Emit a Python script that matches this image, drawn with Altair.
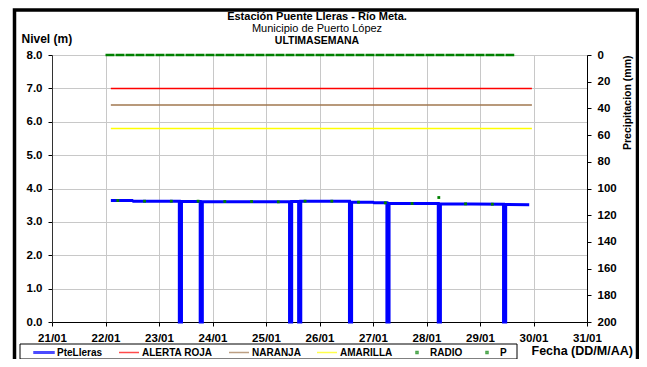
import altair as alt
import pandas as pd

FONT = "Liberation Sans"

# ---------------- data ----------------
title_lines = ["Estación Puente Lleras - Río Meta.", "Municipio de Puerto López", "ULTIMASEMANA"]

series_names = ["PteLleras", "ALERTA ROJA", "NARANJA", "AMARILLA", "RADIO", "P"]
series_colors = ["#0000FF", "#FF0000", "#A0774F", "#FFFF00", "#008000", "#008000"]
series_shapes = [
    "M-1,-0.08H1V0.08H-1Z",
    "M-1,0H1",
    "M-1,0H1",
    "M-1,0H1",
    "M-0.1,-0.1H0.1V0.1H-0.1Z",
    "M-0.1,-0.1H0.1V0.1H-0.1Z",
]

day_ticks = [21, 22, 23, 24, 25, 26, 27, 28, 29, 30, 31]
level_ticks = [0, 1, 2, 3, 4, 5, 6, 7, 8]
precip_ticks = [0, 20, 40, 60, 80, 100, 120, 140, 160, 180, 200]

# water level (m), time in days of January
lvl_t = [22.10, 22.50, 22.52, 23.38, 23.38, 23.42, 23.42, 23.77, 23.77, 23.81, 23.81,
         25.44, 25.44, 25.48, 25.48, 25.61, 25.61, 25.65, 25.65, 26.56, 26.56, 26.60,
         26.60, 27.00, 27.02, 27.26, 27.26, 27.30, 27.30, 28.22, 28.22, 28.26, 28.26,
         29.44, 29.44, 29.48, 29.48, 29.92]
lvl_v = [3.64, 3.64, 3.62, 3.62, 0, 0, 3.61, 3.61, 0, 0, 3.60,
         3.60, 0, 0, 3.61, 3.61, 0, 0, 3.62, 3.62, 0, 0,
         3.59, 3.59, 3.57, 3.57, 0, 0, 3.55, 3.55, 0, 0, 3.54,
         3.53, 0, 0, 3.52, 3.51]

radio_t = [22.23, 22.73, 23.23, 23.73, 24.23, 24.73, 25.23, 25.73, 26.23, 26.73,
           27.23, 27.73, 28.23, 28.73, 29.23]
radio_v = [3.64, 3.62, 3.62, 3.62, 3.61, 3.61, 3.60, 3.62, 3.62, 3.59,
           3.57, 3.55, 3.73, 3.54, 3.53]

p_t = [22.00, 29.64]
p_v = [0, 0]

thr_names = ["ALERTA ROJA", "NARANJA", "AMARILLA"]
thr_levels = [7.0, 6.5, 5.8]
thr_start = 22.10
thr_end = 29.97

# ---------------- tables ----------------
lvl_df = pd.DataFrame({"t": lvl_t, "v": lvl_v, "i": list(range(len(lvl_t)))})
radio_df = pd.DataFrame({"t": radio_t, "v": radio_v})
p_df = pd.DataFrame({"t": p_t, "p": p_v})
thr_df = pd.DataFrame({
    "name": thr_names,
    "v": thr_levels,
    "t": [thr_start] * len(thr_names),
    "t1": [thr_end] * len(thr_names),
    "color": [series_colors[series_names.index(n)] for n in thr_names],
})
leg_df = pd.DataFrame({"name": series_names})

x_scale = alt.Scale(domain=[21, 31], nice=False, zero=False)
y_scale = alt.Scale(domain=[0, 8], nice=False)

x_axis = alt.Axis(values=day_ticks, labelExpr="datum.value + '/01'",
                  title="Fecha (DD/M/AA)", titleX=479, titleY=32, titleAlign="left",
                  titleBaseline="alphabetic", titleFontSize=12.5,
                  labelFlush=False, labelOverlap=False, grid=True)
y_axis = alt.Axis(values=level_ticks, format=".1f", title="Nivel (m)", titleAngle=0,
                  titleX=-31, titleY=-13, titleAlign="left", titleBaseline="alphabetic",
                  titleFontSize=12, grid=True, domainColor="#333333")

X = alt.X("t:Q", scale=x_scale, axis=x_axis)
Y = alt.Y("v:Q", scale=y_scale, axis=y_axis)

thr = alt.Chart(thr_df).mark_rule(strokeWidth=1.5).encode(
    x=X, x2="t1:Q", y=Y,
    color=alt.Color("color:N", scale=None),
)

line = alt.Chart(lvl_df).mark_line(color="#0000FF", strokeWidth=3).encode(
    x=X, y=Y, order="i:Q",
)

radio = alt.Chart(radio_df).mark_point(filled=True, shape="square", size=8,
                                       color="#008000", opacity=1).encode(x=X, y=Y)

leg = alt.Legend(orient="none", legendX=-19, legendY=286.5, direction="horizontal",
                 columns=6, title=None, symbolSize=400, symbolStrokeWidth=1.5,
                 labelFont=FONT, labelFontSize=10, labelFontWeight="bold",
                 labelColor="black", labelOffset=2, columnPadding=13, padding=0)

legend_layer = alt.Chart(leg_df).mark_point(filled=False, strokeWidth=1.5).encode(
    x=alt.value(-3000),
    y=alt.value(-3000),
    color=alt.Color("name:N", scale=alt.Scale(domain=series_names, range=series_colors),
                    legend=leg),
    shape=alt.Shape("name:N", scale=alt.Scale(domain=series_names, range=series_shapes),
                    legend=leg),
)

legend_box = alt.Chart(pd.DataFrame({"k": [0]})).mark_rect(
    fillOpacity=0, stroke="black", strokeWidth=1).encode(
    x=alt.value(-32), x2=alt.value(465), y=alt.value(289), y2=alt.value(304))

frame = alt.Chart(pd.DataFrame({"k": [0]})).mark_rect(
    fillOpacity=0, stroke="black", strokeWidth=3.5).encode(
    x=alt.value(-37.5), x2=alt.value(585.5), y=alt.value(-45), y2=alt.value(420))

t1 = alt.Chart(pd.DataFrame({"s": [title_lines[0]]})).mark_text(
    font=FONT, fontSize=11, fontWeight="bold", color="black", align="center",
    baseline="alphabetic").encode(text="s:N", x=alt.value(265), y=alt.value(-35))
t2 = alt.Chart(pd.DataFrame({"s": [title_lines[1]]})).mark_text(
    font=FONT, fontSize=11, fontWeight="normal", color="black", align="center",
    baseline="alphabetic").encode(text="s:N", x=alt.value(265), y=alt.value(-23))
t3 = alt.Chart(pd.DataFrame({"s": [title_lines[2]]})).mark_text(
    font=FONT, fontSize=10.5, fontWeight="bold", color="black", align="center",
    baseline="alphabetic").encode(text="s:N", x=alt.value(265), y=alt.value(-11))

left = alt.layer(thr, line, radio, legend_layer, legend_box, frame, t1, t2, t3)

precip = alt.Chart(p_df).mark_line(color="#008000", strokeWidth=2.5,
                                   strokeDash=[9, 1]).encode(
    x=X,
    y=alt.Y("p:Q", scale=alt.Scale(domain=[0, 200], reverse=True, nice=False),
            axis=alt.Axis(orient="right", values=precip_ticks, format="d",
                          title="Precipitacion (mm)", titleAngle=270, titleX=40,
                          titleY=0, titleAlign="right", titleBaseline="middle",
                          titleFontSize=10.5, grid=False)),
)

chart = alt.layer(left, precip).resolve_scale(y="independent").properties(
    width=535, height=267,
    autosize=alt.AutoSizeParams(type="none"),
    padding={"left": 44, "top": 47, "right": 52, "bottom": 37},
    background="white",
).configure_axis(
    labelFont=FONT, labelFontSize=11.5, labelFontWeight="bold", labelColor="black",
    titleFont=FONT, titleFontWeight="bold", titleColor="black",
    tickColor="black", domainColor="black", gridColor="#c8c8c8", gridWidth=1,
    tickSize=4, labelPadding=6,
).configure_view(stroke=None)

chart.save("out.html", embed_options={"renderer": "svg", "actions": False})
